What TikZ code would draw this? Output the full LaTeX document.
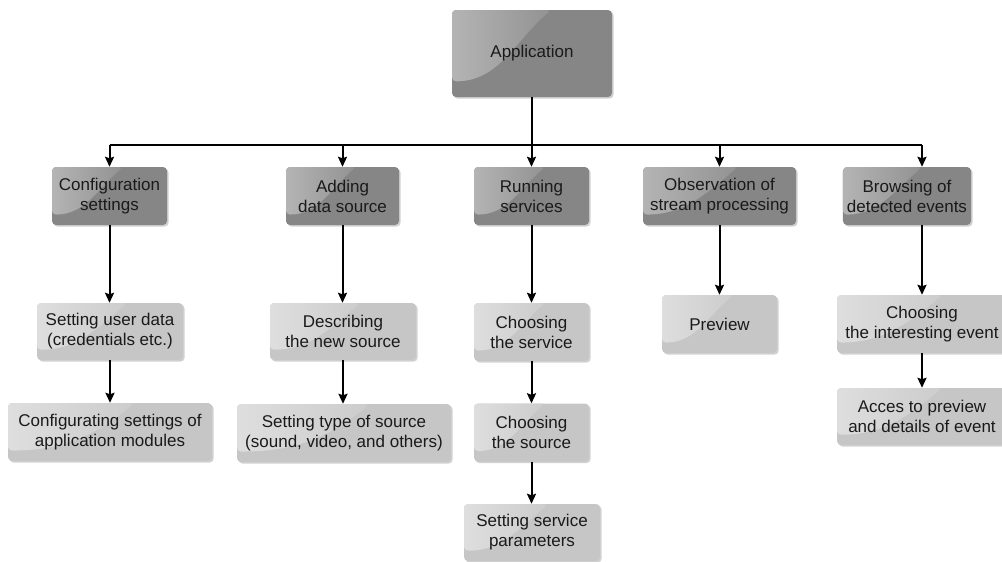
\documentclass[tikz,border=0pt]{standalone}
\usepackage{fontspec}
\setmainfont{Liberation Sans}
\usetikzlibrary{calc,shadows,arrows.meta}
\definecolor{dbase}{HTML}{868686}
\definecolor{dhl}{HTML}{B4B4B4}
\definecolor{dhl2}{HTML}{929292}
\definecolor{lbase}{HTML}{C6C6C6}
\definecolor{lhl}{HTML}{DEDEDE}
\definecolor{lhl2}{HTML}{CCCCCC}
\definecolor{txt}{HTML}{1A1A1A}
\tikzset{
  gloss/.style 2 args={path picture={
    \coordinate (pA) at (path picture bounding box.north west);
    \coordinate (pB) at (path picture bounding box.south east);
    \shade[left color=#1, right color=#2]
      (pA) -- ($(pA)!0.62!(pA-|pB)$) to[out=-140,in=0]
      ($(pA)!0.82!(pA|-pB)$) -- cycle;
  }},
  boxbase/.style={rounded corners=4pt, align=center, text=txt,
    font=\fontsize{17}{20}\selectfont, inner sep=4pt,
    drop shadow={shadow xshift=1.6pt, shadow yshift=-1.6pt, opacity=0.3, fill=black!60}},
  dbox/.style={boxbase, fill=dbase, gloss={dhl}{dhl2}},
  lbox/.style={boxbase, fill=lbase, gloss={lhl}{lhl2}},
  wire/.style={line width=2pt, black},
  arr/.style={wire, -{Stealth[length=10pt,width=9pt,inset=1.5pt]}}
}
\begin{document}
\begin{tikzpicture}[x=1pt,y=1pt]
\useasboundingbox (0,0) rectangle (1002,-562);
% top
\node[dbox, minimum width=160, minimum height=87] (app) at (532,-53.5) {Application};
% level 1
\node[dbox, minimum width=115, minimum height=58] (cfg) at (109.5,-196) {Configuration\\settings};
\node[dbox, minimum width=113, minimum height=58] (add) at (342.5,-196) {Adding\\data source};
\node[dbox, minimum width=115, minimum height=58] (run) at (531.5,-196) {Running\\services};
\node[dbox, minimum width=153, minimum height=58] (obs) at (719.5,-196) {Observation of\\stream processing};
\node[dbox, minimum width=114, minimum height=58] (brw) at (907,-196) {Browsing of\\detected events};
% level 2
\node[lbox, minimum width=146, minimum height=57] (usr) at (110,-331.5) {Setting user data\\(credentials etc.)};
\node[lbox, minimum width=204, minimum height=58] (mod) at (110,-432) {Configurating settings of\\application modules};
\node[lbox, minimum width=146, minimum height=57] (dsc) at (343,-331.5) {Describing\\the new source};
\node[lbox, minimum width=214, minimum height=58] (typ) at (344,-433) {Setting type of source\\(sound, video, and others)};
\node[lbox, minimum width=115, minimum height=58] (csv) at (531.5,-332) {Choosing\\the service};
\node[lbox, minimum width=115, minimum height=58] (csr) at (531.5,-432.5) {Choosing\\the source};
\node[lbox, minimum width=136, minimum height=57] (par) at (532,-532.5) {Setting service\\parameters};
\node[lbox, minimum width=115, minimum height=58] (prv) at (719.5,-324) {Preview};
\node[lbox, minimum width=170, minimum height=58] (cie) at (922,-324) {Choosing\\the interesting event};
\node[lbox, minimum width=170, minimum height=57] (acc) at (922,-416.5) {Acces to preview\\and details of event};
% bus
\coordinate (bus) at (532,-145);
\draw[wire] (app.south) -- (bus);
\draw[wire] (cfg.north |- bus) -- (cie.north |- bus);
\draw[arr] (cfg.north |- bus) -- (cfg.north);
\draw[arr] (add.north |- bus) -- (add.north);
\draw[arr] (run.north |- bus) -- (run.north);
\draw[arr] (obs.north |- bus) -- (obs.north);
\draw[arr] (cie.north |- bus) -- (cie.north |- brw.north);
% columns
\draw[arr] (cfg.south) -- (usr.north -| cfg.south);
\draw[arr] (usr.south) -- (mod.north -| usr.south);
\draw[arr] (add.south) -- (dsc.north -| add.south);
\draw[arr] (dsc.south) -- (typ.north -| dsc.south);
\draw[arr] (run.south) -- (csv.north -| run.south);
\draw[arr] (csv.south) -- (csr.north);
\draw[arr] (csr.south) -- (par.north -| csr.south);
\draw[arr] (obs.south) -- (prv.north -| obs.south);
\draw[arr] (cie.north |- brw.south) -- (cie.north);
\draw[arr] (cie.south) -- (acc.north);
\end{tikzpicture}
\end{document}
